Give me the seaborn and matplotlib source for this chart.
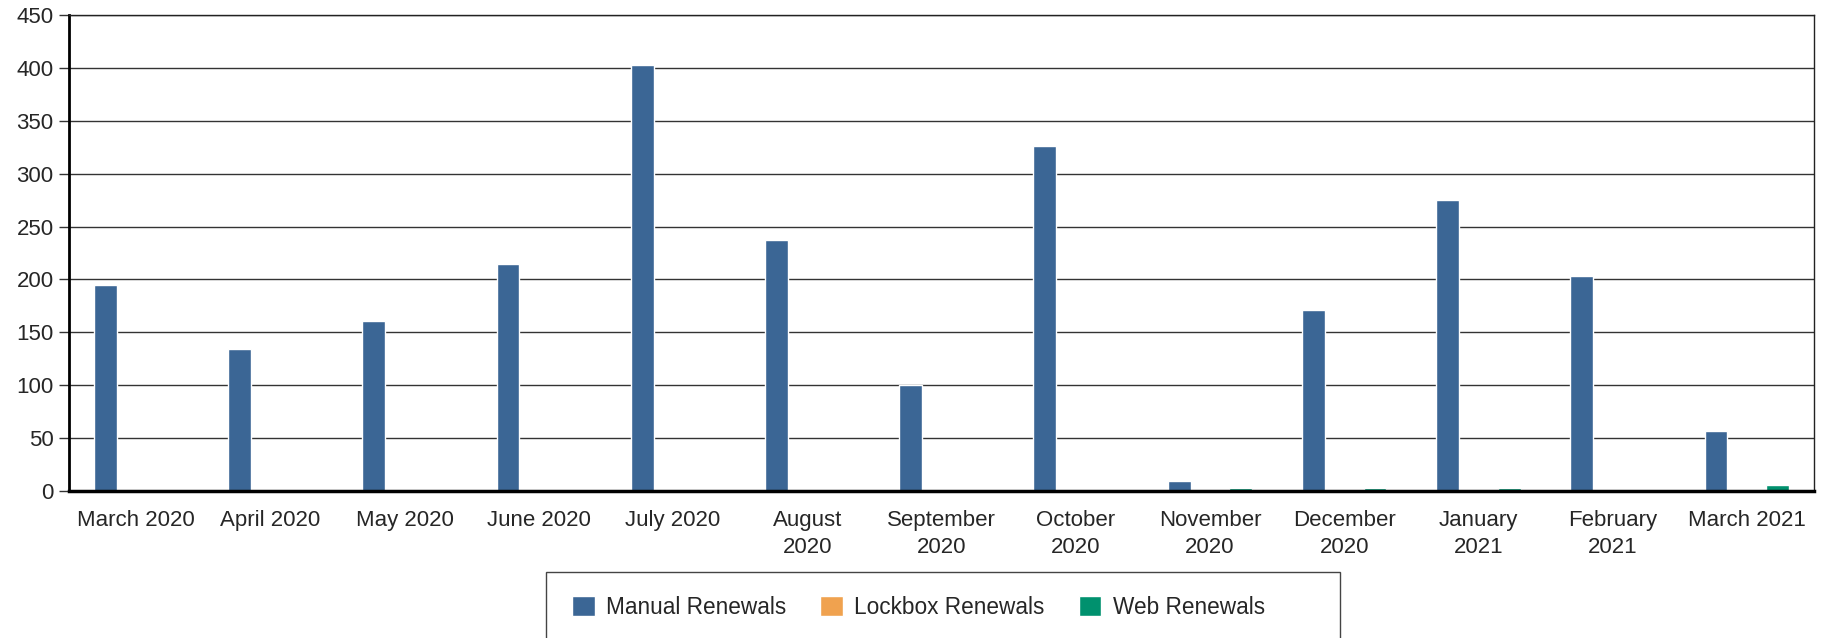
import pandas as pd
import matplotlib
matplotlib.use("Agg")
import matplotlib.pyplot as plt
import seaborn as sns
from matplotlib.patches import Rectangle

# Data
months = ["March 2020", "April 2020", "May 2020", "June 2020", "July 2020",
          "August\n2020", "September\n2020", "October\n2020", "November\n2020",
          "December\n2020", "January\n2021", "February\n2021", "March 2021"]
manual = [195, 134, 161, 215, 403, 237, 100, 326, 9, 171, 275, 203, 57]
lockbox = [0, 0, 0, 0, 0, 0, 0, 0, 0, 0, 0, 0, 0]
web = [0, 0, 0, 0, 0, 0, 0, 0, 3, 3, 3, 0, 6]

series = ["Manual Renewals", "Lockbox Renewals", "Web Renewals"]
colors = ["#3B6695", "#F0A24F", "#00916E"]

# long format for seaborn
df = pd.DataFrame({
    "Month": months * 3,
    "Renewals": manual + lockbox + web,
    "Type": [series[0]] * 13 + [series[1]] * 13 + [series[2]] * 13,
})

sns.set_style("white")
plt.rcParams["font.family"] = ["Liberation Sans", "DejaVu Sans"]

fig = plt.figure(figsize=(18.27, 6.38), dpi=100)
ax = fig.add_axes([69 / 1827, 1 - 491 / 638, (1814 - 69) / 1827, (491 - 15) / 638])

sns.barplot(data=df, x="Month", y="Renewals", hue="Type", hue_order=series,
            order=months, palette=colors, width=0.69, gap=0.26,
            saturation=1, ax=ax, legend=True)

ax.set_ylim(0, 450)
ax.set_yticks(range(0, 451, 50))
ax.set_xlim(-0.5, 12.5)
ax.set_xlabel("")
ax.set_ylabel("")

# gridlines and frame
ax.yaxis.grid(True, color="#333333", linewidth=1)
ax.set_axisbelow(True)
for s in ["top", "right"]:
    ax.spines[s].set_color("#222222")
    ax.spines[s].set_linewidth(1)
ax.spines["left"].set_color("black")
ax.spines["left"].set_linewidth(2)
ax.spines["bottom"].set_color("black")
ax.spines["bottom"].set_linewidth(2.5)
ax.spines["bottom"].set_zorder(5)

ax.tick_params(axis="y", length=7, width=1, color="#333333", labelsize=16, pad=4, left=True)
ax.tick_params(axis="x", length=0, labelsize=16, pad=14)
for t in ax.get_xticklabels():
    t.set_linespacing(1.35)

# legend below the chart
handles, labels = ax.get_legend_handles_labels()
ax.get_legend().remove()
fig.legend(handles, labels, loc="center left", ncol=3, frameon=False,
           bbox_to_anchor=(561 / 1827, 1 - 607 / 638), borderpad=0,
           handlelength=1.0, handleheight=1.0, handletextpad=0.5,
           columnspacing=1.5, fontsize=16.3)
fig.add_artist(Rectangle((546 / 1827, 1 - 645 / 638), 794 / 1827, 73 / 638,
                         transform=fig.transFigure, fill=False,
                         edgecolor="#444444", linewidth=1))

fig.savefig("out.png", dpi=100)
